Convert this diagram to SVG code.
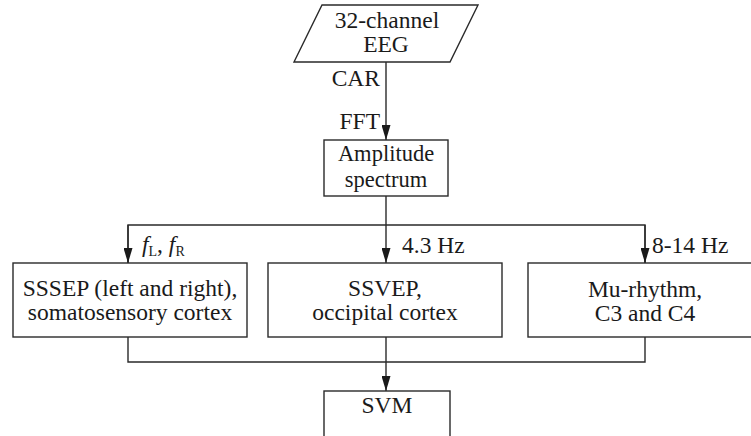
<svg xmlns="http://www.w3.org/2000/svg" width="751" height="436" viewBox="0 0 751 436" font-family="'Liberation Serif', 'DejaVu Serif', serif">
<style>
.box{fill:#fff;stroke:#2a2a2a;stroke-width:1.4}
.ln{fill:none;stroke:#2a2a2a;stroke-width:1.4}
text{font-family:'Liberation Serif','DejaVu Serif',serif;font-size:23.5px;fill:#1a1a1a}
.c{text-anchor:middle}
.i{font-style:italic}
.sub{font-size:14px}
.s{font-size:22.5px}
</style>
<defs>
<marker id="ah" markerUnits="userSpaceOnUse" markerWidth="16" markerHeight="9" refX="15" refY="4.5" orient="auto">
<path d="M0,0 L15,4.5 L0,9 Z" fill="#1a1a1a"/>
</marker>
</defs>
<rect width="751" height="436" fill="#fff"/>
<g id="connectors">
<line class="ln" x1="386" y1="62" x2="386" y2="140" marker-end="url(#ah)"/>
<line class="ln" x1="386" y1="196" x2="386" y2="263" marker-end="url(#ah)"/>
<polyline class="ln" points="128,263 128,225 645,225 645,263"/>
<line class="ln" x1="128" y1="225" x2="128" y2="263" marker-end="url(#ah)"/>
<line class="ln" x1="645" y1="225" x2="645" y2="263" marker-end="url(#ah)"/>
<polyline class="ln" points="128,337 128,362 645,362 645,337"/>
<line class="ln" x1="386" y1="337" x2="386" y2="391" marker-end="url(#ah)"/>
<text x="380" y="86" text-anchor="end">CAR</text>
<text x="380" y="129" text-anchor="end">FFT</text>
<text x="142" y="252"><tspan class="i">f</tspan><tspan class="sub" dy="4">L</tspan><tspan dy="-4">, </tspan><tspan class="i">f</tspan><tspan class="sub" dy="4">R</tspan></text>
<text x="402" y="253">4.3 Hz</text>
<text x="652" y="253">8-14 Hz</text>
</g>
<g id="eeg">
<polygon class="box" points="322,5 478,5 450,62 294,62"/>
<text class="c" x="387" y="28">32-channel</text>
<text class="c" x="386" y="52">EEG</text>
</g>
<g id="amplitude">
<rect class="box" x="324" y="140" width="124" height="56"/>
<text class="c s" x="386" y="161">Amplitude</text>
<text class="c s" x="386" y="187">spectrum</text>
</g>
<g id="sssep">
<rect class="box" x="13" y="263" width="234" height="74"/>
<text class="c" x="130" y="296">SSSEP (left and right),</text>
<text class="c" x="130" y="320">somatosensory cortex</text>
</g>
<g id="ssvep">
<rect class="box" x="268" y="263" width="234" height="74"/>
<text class="c" x="385" y="296">SSVEP,</text>
<text class="c" x="385" y="320">occipital cortex</text>
</g>
<g id="mu">
<rect class="box" x="528" y="263" width="234" height="74"/>
<text class="c" x="645" y="297">Mu-rhythm,</text>
<text class="c" x="645" y="321">C3 and C4</text>
</g>
<g id="svm">
<rect class="box" x="324" y="391" width="126" height="50"/>
<text class="c" x="387" y="413">SVM</text>
</g>
</svg>
